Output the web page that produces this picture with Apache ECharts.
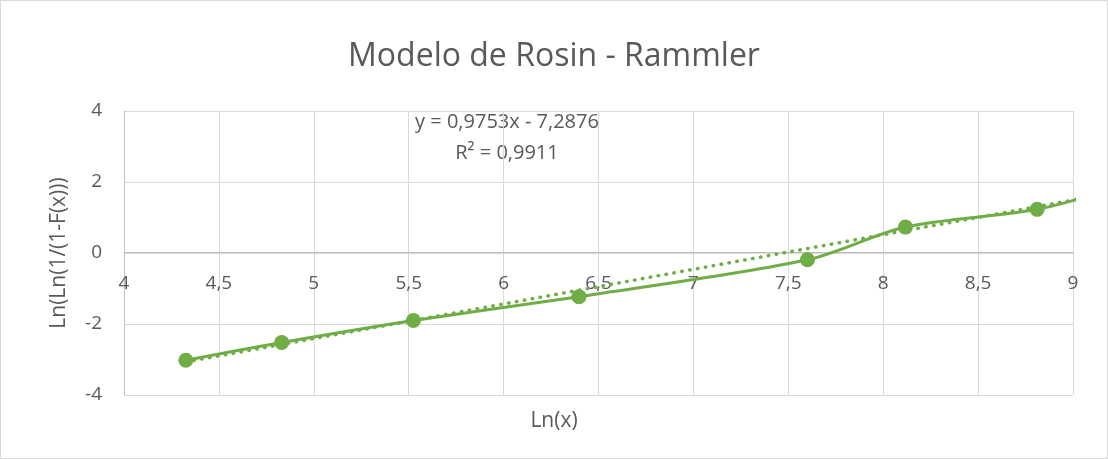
<!DOCTYPE html>
<html>
<head>
<meta charset="utf-8">
<script src="https://cdn.jsdelivr.net/npm/echarts@6/dist/echarts.min.js"></script>
<style>
  html, body { margin: 0; padding: 0; background: #fff; }
  #chart { width: 1108px; height: 459px; box-sizing: border-box; border: 1px solid #d9d9d9; }
</style>
</head>
<body>
<div id="chart"></div>
<script>
// Ln(x) and Ln(Ln(1/(1-F(x)))) values
const lnX = [4.326, 4.831, 5.525, 6.397, 7.601, 8.117, 8.811, 9.25];
const lnLnF = [-3.02, -2.52, -1.90, -1.23, -0.19, 0.73, 1.23, 1.87];
// linear trendline shown on the chart
const slope = 0.9753;
const intercept = -7.2876;
const r2 = 0.9911;
const xTicks = [4, 4.5, 5, 5.5, 6, 6.5, 7, 7.5, 8, 8.5, 9];
const yTicks = [-4, -2, 0, 2, 4];

const fmt = v => String(v).replace('.', ',');
const pts = lnX.map((x, i) => [x, lnLnF[i]]);
const xMin = Math.min(...lnX), xMax = Math.max(...lnX);
const trend = [[xMin, slope * xMin + intercept], [xMax, slope * xMax + intercept]];

const green = '#70ad47';
const grey = '#595959';
const font = 'Open Sans, Liberation Sans, sans-serif';

const chart = echarts.init(document.getElementById('chart'));
chart.setOption({
  animation: false,
  textStyle: { fontFamily: font },
  title: [
    {
      text: 'Modelo de Rosin - Rammler',
      left: 'center', top: 35,
      textStyle: { color: grey, fontSize: 32, fontWeight: 'normal', fontFamily: font }
    },
    {
      text: 'Ln(x)',
      left: 'center', top: 405,
      textStyle: { color: grey, fontSize: 21, fontWeight: 'normal', fontFamily: font }
    }
  ],
  graphic: [
    {
      type: 'text', x: 506, y: 121,
      style: {
        text: 'y = 0,9753x - 7,2876', align: 'center', verticalAlign: 'middle',
        fill: grey, font: '20px ' + font
      }
    },
    {
      type: 'text', x: 506, y: 152,
      style: {
        text: 'R² = ' + fmt(r2), align: 'center', verticalAlign: 'middle',
        fill: grey, font: '20px ' + font
      }
    }
  ],
  grid: { left: 123, right: 34, top: 110, bottom: 63 },
  xAxis: {
    type: 'value', min: xTicks[0], max: xTicks[xTicks.length - 1], interval: 0.5,
    offset: -143,
    axisLine: { onZero: false, lineStyle: { color: '#bfbfbf', width: 1 } },
    axisTick: { show: false },
    axisLabel: { color: grey, fontSize: 19, margin: 22, formatter: fmt },
    splitLine: { show: true, lineStyle: { color: '#d9d9d9', width: 1 } }
  },
  yAxis: {
    type: 'value', min: yTicks[0], max: yTicks[yTicks.length - 1], interval: 2,
    name: 'Ln(Ln(1/(1-F(x)))',
    nameLocation: 'middle', nameGap: 54, nameRotate: 90,
    nameTextStyle: { color: grey, fontSize: 21, fontFamily: font },
    axisLine: { show: true, lineStyle: { color: '#bfbfbf' } },
    axisTick: { show: false },
    axisLabel: { color: grey, fontSize: 19, margin: 22, formatter: fmt },
    splitLine: { show: true, lineStyle: { color: '#d9d9d9', width: 1 } }
  },
  series: [
    {
      type: 'line',
      data: trend,
      symbol: 'none',
      lineStyle: { color: green, width: 3.5, type: [0.5, 7.5], cap: 'round' },
      silent: true
    },
    {
      type: 'line',
      data: pts,
      smooth: 0.3,
      symbol: 'circle',
      symbolSize: 15,
      clip: true,
      itemStyle: { color: green },
      lineStyle: { color: green, width: 3 }
    }
  ]
});
</script>
</body>
</html>
